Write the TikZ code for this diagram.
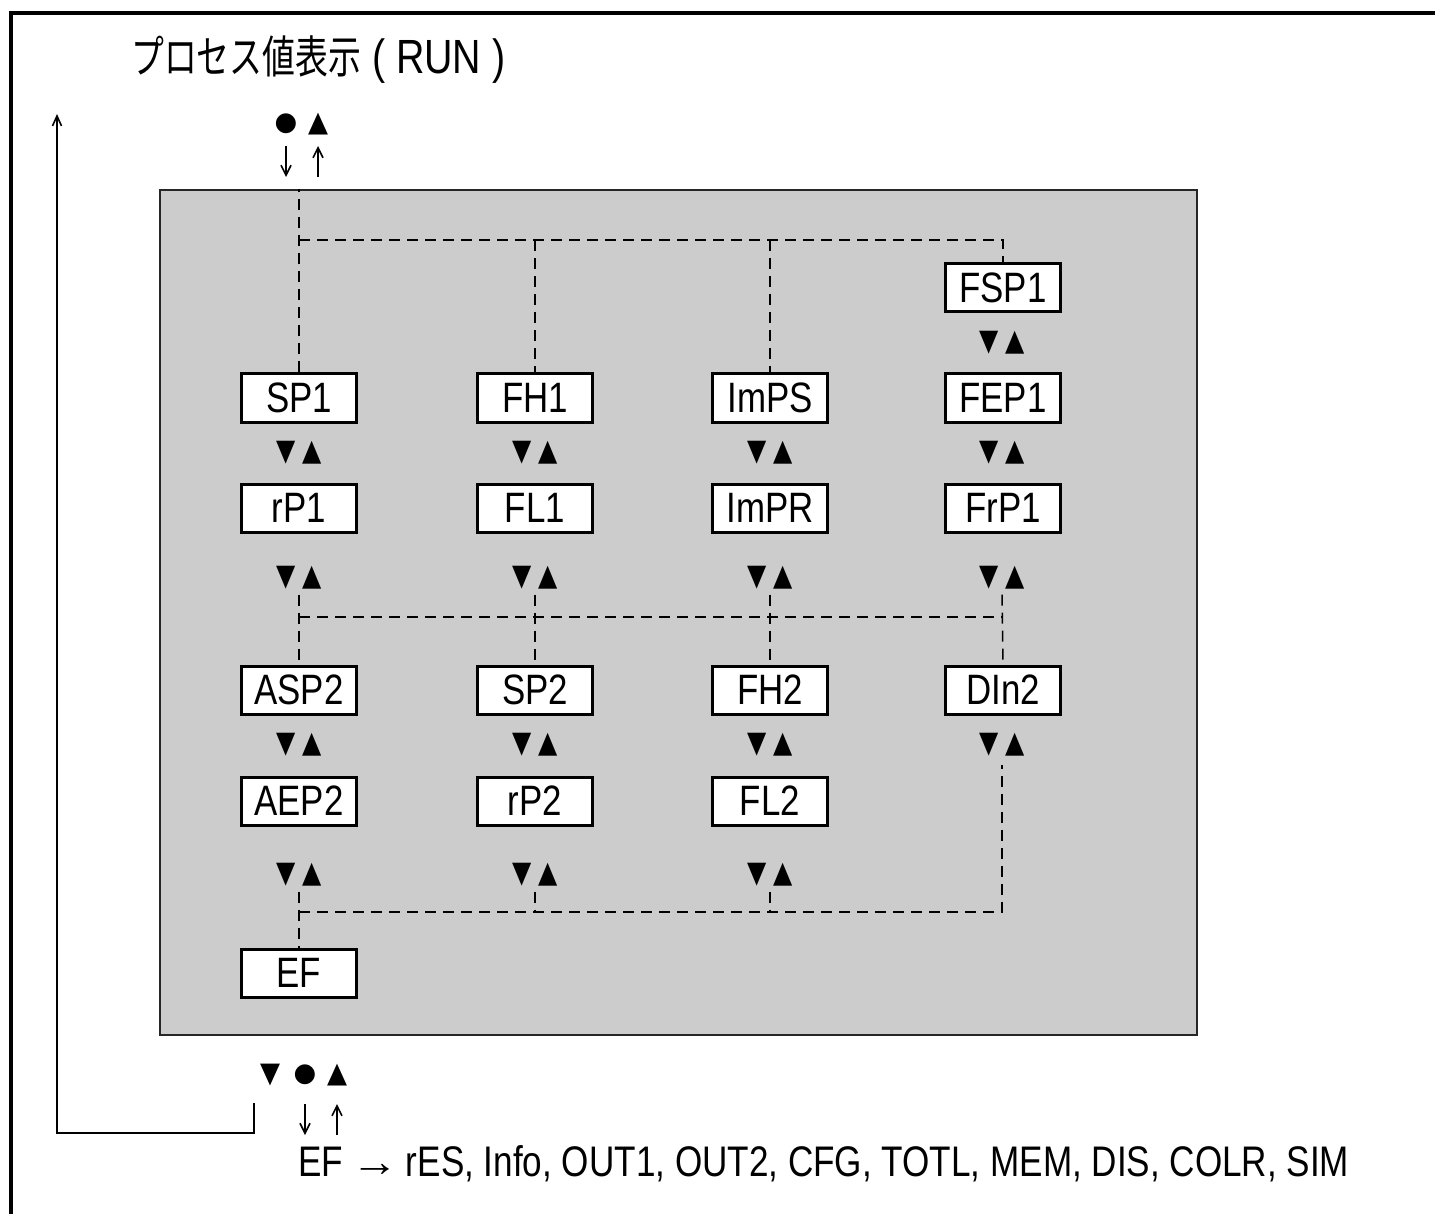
\documentclass[tikz,border=0pt]{standalone}
\usepackage{graphicx}
\usepackage{fontspec}
\setmainfont{Liberation Sans}[FakeStretch=0.82]
\newfontfamily\cjk{Noto Sans CJK JP}[FakeStretch=0.73]
\newfontfamily\sym{DejaVu Sans}
\usetikzlibrary{arrows.meta}
\newcommand{\dnup}{\scalebox{1}[1.2]{▼}\kern6pt\scalebox{1}[1.2]{▲}}
\begin{document}
\begin{tikzpicture}[x=1pt,y=-1pt,
  box/.style={draw, line width=3pt, fill=white, minimum width=115pt, minimum height=48pt, inner sep=0pt, font=\fontsize{42.5}{42.5}\selectfont},
  ud/.style={inner sep=0pt, font=\sym\fontsize{25}{25}\selectfont},
  symb/.style={inner sep=0pt, font=\sym\fontsize{26}{26}\selectfont},
  dl/.style={line width=1.5pt, dash pattern=on 11pt off 7pt},
  arr/.style={line width=1.6pt, -{Straight Barb[length=10pt,width=10pt]}},
  retline/.style={line width=1.6pt, -{Straight Barb[length=10pt,width=9pt]}},
  txt/.style={inner sep=0pt, font=\fontsize{42.8}{42.8}\selectfont}]
\useasboundingbox (0,0) rectangle (1435,1214);
% outer frame
\draw[line width=3.5pt] (11,1216) -- (11,13) -- (1437,13);
% title
\node[inner sep=0pt, anchor=west, font=\fontsize{48}{48}\selectfont] (title) at (131,60) {{\cjk\fontsize{45}{45}\selectfont プロセス値表示} ( RUN )};
% panel
\node[draw=black!85, line width=2pt, fill=black!20, minimum width=1037pt, minimum height=845pt, inner sep=0pt] (panel) at (678.5,612.5) {};
% boxes
\node[box] (FSP1) at (1003,288) {FSP1};
\node[box] (SP1) at (299,398) {SP1};
\node[box] (FH1) at (535,398) {FH1};
\node[box] (ImPS) at (770,398) {ImPS};
\node[box] (FEP1) at (1003,398) {FEP1};
\node[box] (rP1) at (299,508) {rP1};
\node[box] (FL1) at (535,508) {FL1};
\node[box] (ImPR) at (770,508) {ImPR};
\node[box] (FrP1) at (1003,508) {FrP1};
\node[box] (ASP2) at (299,690) {ASP2};
\node[box] (SP2) at (535,690) {SP2};
\node[box] (FH2) at (770,690) {FH2};
\node[box] (DIn2) at (1003,690) {DIn2};
\node[box] (AEP2) at (299,801) {AEP2};
\node[box] (rP2) at (535,801) {rP2};
\node[box] (FL2) at (770,801) {FL2};
\node[box] (EF) at (299,973) {EF};
% up/down symbols
\node[ud] (u04) at (1002,343) {\dnup};
\node[ud] (u11) at (299,453) {\dnup};
\node[ud] (u12) at (535,453) {\dnup};
\node[ud] (u13) at (770,453) {\dnup};
\node[ud] (u14) at (1002,453) {\dnup};
\node[ud] (u21) at (299,578) {\dnup};
\node[ud] (u22) at (535,578) {\dnup};
\node[ud] (u23) at (770,578) {\dnup};
\node[ud] (u24) at (1002,578) {\dnup};
\node[ud] (u31) at (299,745) {\dnup};
\node[ud] (u32) at (535,745) {\dnup};
\node[ud] (u33) at (770,745) {\dnup};
\node[ud] (u34) at (1002,745) {\dnup};
\node[ud] (u41) at (299,875) {\dnup};
\node[ud] (u42) at (535,875) {\dnup};
\node[ud] (u43) at (770,875) {\dnup};
% bus coordinates
\coordinate (topbus) at (0,240);
\coordinate (midbus) at (0,617);
\coordinate (botbus) at (0,912);
% top dashed
\draw[dl] (SP1.north) -- (SP1.north |- panel.north);
\draw[dl] (SP1.north |- topbus) -- (FSP1.north |- topbus) -- (FSP1.north);
\draw[dl] (FH1.north |- topbus) -- (FH1.north);
\draw[dl] (ImPS.north |- topbus) -- (ImPS.north);
% middle dashed
\draw[dl] ([yshift=-5pt]u21.south) -- (ASP2.north);
\draw[dl] ([yshift=-5pt]u22.south) -- (SP2.north);
\draw[dl] ([yshift=-5pt]u23.south) -- (FH2.north);
\draw[dl] ([yshift=-5pt]u24.south) -- (DIn2.north);
\draw[dl] (ASP2.north |- midbus) -- (DIn2.north |- midbus);
% bottom dashed
\draw[dl] ([yshift=-5pt]u41.south) -- (EF.north);
\draw[dl] ([yshift=-5pt]u42.south) -- (u42.south |- botbus);
\draw[dl] ([yshift=-5pt]u43.south) -- (u43.south |- botbus);
\draw[dl] (EF.north |- botbus) -- (u34.south |- botbus) -- ([yshift=-8pt]u34.south);
% top keys
\node[symb] (tdot) at (286,124) {●};
\node[symb] (ttri) at (318,124) {\scalebox{1}[1.1]{▲}};
\coordinate (ta1) at (286,146);
\coordinate (ta2) at (286,177);
\coordinate (tb1) at (318,177);
\coordinate (tb2) at (318,146);
\draw[arr] (ta1) -- (ta2);
\draw[arr] (tb1) -- (tb2);
% bottom keys
\node[symb] (bdown) at (270,1075) {\scalebox{1}[1.1]{▼}};
\node[symb] (bdot) at (305,1075) {●};
\node[symb] (btri) at (337,1075) {\scalebox{1}[1.1]{▲}};
\coordinate (ba1) at (305,1104);
\coordinate (ba2) at (305,1135);
\coordinate (bb1) at (337,1135);
\coordinate (bb2) at (337,1104);
\draw[arr] (ba1) -- (ba2);
\draw[arr] (bb1) -- (bb2);
% return line
\coordinate (r0) at (254,1103);
\coordinate (r1) at (254,1133);
\coordinate (r2) at (57,1133);
\coordinate (r3) at (57,114);
\draw[retline] (r0) -- (r1) -- (r2) -- (r3);
% bottom text
\node[txt, anchor=west] (eftext) at (298,1164) {EF\kern-1pt\ \scalebox{1.35}[1]{→}\kern-3pt\ rES, Info, OUT1, OUT2, CFG, TOTL, MEM, DIS, COLR, SIM};
\end{tikzpicture}
\end{document}
